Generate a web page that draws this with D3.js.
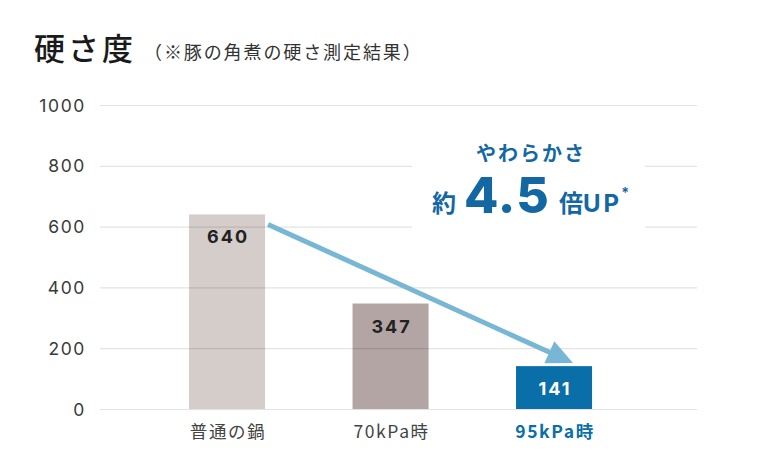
<!DOCTYPE html>
<html><head><meta charset="utf-8">
<script src="https://cdn.jsdelivr.net/npm/d3@7"></script>
<style>
body{margin:0;background:#fff;}
svg{display:block;}
</style></head>
<body>
<svg id="c" width="760" height="457"></svg>
<script>
const categories = ["普通の鍋", "70kPa時", "95kPa時"];
const values = [640, 347, 141];
const yTicks = [0, 200, 400, 600, 800, 1000];
const title = "硬さ度";
const subtitle = "（※豚の角煮の硬さ測定結果）";
const barColors = ["#d5cdca", "#b2a5a4", "#0a6ea8"];

const svg = d3.select("#c");
const jp = "'Noto Sans CJK JP', sans-serif";
const num = "Inter, 'Noto Sans', sans-serif";

const x = d3.scaleBand().domain(categories).range([145.3, 635.8]).paddingInner(0.535).paddingOuter(0.2675);
const y = d3.scaleLinear().domain([0, 1000]).range([409, 105]);

// title
svg.append("text").attr("x", 34).attr("y", 60).attr("font-family", jp).attr("font-size", 31).attr("font-weight", 500)
  .attr("fill", "#1a1a1a").attr("letter-spacing", 3).text(title);
svg.append("text").attr("x", 144).attr("y", 59).attr("font-family", jp).attr("font-size", 18).attr("font-weight", 400)
  .attr("fill", "#333").attr("letter-spacing", 1.9).text(subtitle);

// bars
svg.append("g").selectAll("rect").data(values).join("rect")
  .attr("x", (d, i) => x(categories[i])).attr("width", x.bandwidth())
  .attr("y", d => y(d)).attr("height", d => y(0) - y(d))
  .attr("fill", (d, i) => barColors[i]);

// gridlines (drawn over bars, semi-transparent)
const ax = d3.axisLeft(y).tickValues(yTicks).tickSize(-(697 - 100)).tickPadding(14).tickFormat(d3.format("d"));
const g = svg.append("g").attr("transform", "translate(100,0)").call(ax);
g.select(".domain").remove();
g.selectAll(".tick line").attr("stroke", "#000").attr("stroke-opacity", 0.11).attr("stroke-width", 1.2);
g.selectAll(".tick text").attr("font-family", num).attr("font-size", 17.5).attr("fill", "#3a3a3a")
  .attr("letter-spacing", 1.6).attr("dy", "0.35em");

// white box behind annotation
svg.append("rect").attr("x", 412).attr("y", 138).attr("width", 233).attr("height", 96).attr("fill", "#fff");

// value labels
svg.append("g").selectAll("text").data(values).join("text")
  .attr("x", (d, i) => x(categories[i]) + x.bandwidth() / 2 + 1)
  .attr("y", d => y(d) + 29)
  .attr("text-anchor", "middle").attr("font-family", num).attr("font-weight", 700).attr("font-size", 18)
  .attr("letter-spacing", 2)
  .attr("fill", (d, i) => i === 2 ? "#fff" : "#222").text(d => d);

// category labels
svg.append("g").selectAll("text").data(categories).join("text")
  .attr("x", d => x(d) + x.bandwidth() / 2 + 1).attr("y", 438)
  .attr("text-anchor", "middle").attr("font-family", jp).attr("font-size", 17.5)
  .attr("font-weight", (d, i) => i === 2 ? 700 : 400)
  .attr("letter-spacing", 1.6)
  .attr("fill", (d, i) => i === 2 ? "#0a6ea8" : "#444").text(d => d);

// arrow
const x0 = x(categories[0]) + x.bandwidth() + 3, y0 = y(values[0]) + 10;
const tipX = 573, tipY = 363;
const ang = Math.atan2(tipY - y0, tipX - x0);
const headLen = 26, headW = 12;
const bx = tipX - headLen * Math.cos(ang), by = tipY - headLen * Math.sin(ang);
svg.append("line").attr("x1", x0).attr("y1", y0).attr("x2", bx + 2 * Math.cos(ang)).attr("y2", by + 2 * Math.sin(ang))
  .attr("stroke", "#77b6d4").attr("stroke-width", 5);
const px = -Math.sin(ang), py = Math.cos(ang);
svg.append("path").attr("d", `M${tipX},${tipY} L${bx + px * headW},${by + py * headW} L${bx - px * headW},${by - py * headW} Z`)
  .attr("fill", "#77b6d4");

// annotation
const blue = "#1368a3";
svg.append("text").attr("x", 531).attr("y", 161).attr("text-anchor", "middle").attr("font-family", jp)
  .attr("font-weight", 700).attr("font-size", 20).attr("letter-spacing", 2).attr("fill", blue).text("やわらかさ");
svg.append("text").attr("x", 432).attr("y", 212).attr("font-family", jp).attr("fill", blue).attr("font-weight", 700)
  .attr("font-size", 24).text("約");
svg.append("text").attr("x", 464).attr("y", 213).attr("font-family", num).attr("fill", blue).attr("font-weight", 800)
  .attr("font-size", 50).attr("letter-spacing", 1).text("4.5");
const t = svg.append("text").attr("x", 559).attr("y", 212).attr("font-family", jp).attr("fill", blue).attr("font-weight", 700);
t.append("tspan").attr("font-size", 24).text("倍");
t.append("tspan").attr("font-family", num).attr("font-size", 24).attr("letter-spacing", 3).text("UP");
t.append("tspan").attr("dx", -1).attr("dy", -14).attr("font-family", num).attr("font-size", 14).text("*");
</script>
</body></html>
